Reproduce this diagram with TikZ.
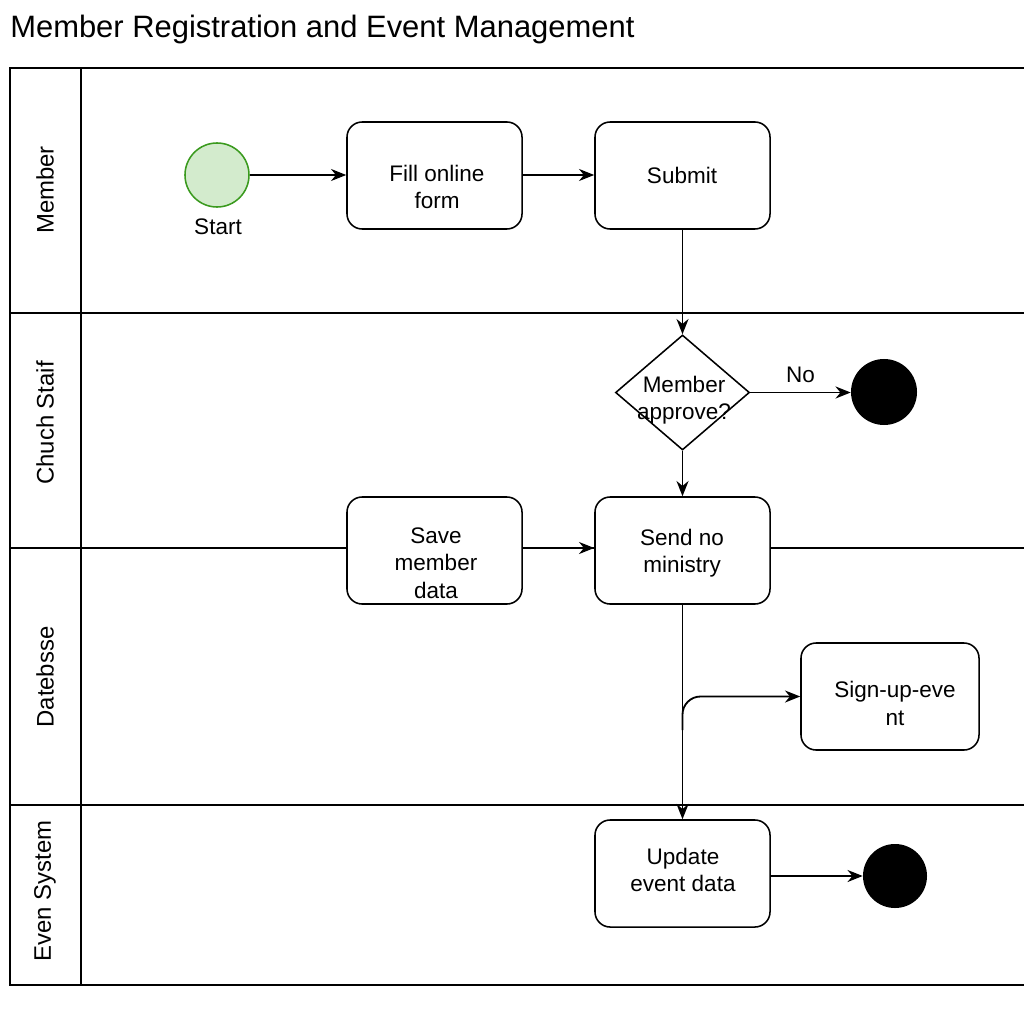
\documentclass[tikz,border=0pt]{standalone}
\usepackage{fontspec}
\setmainfont{Liberation Sans}
\usetikzlibrary{arrows.meta,shapes.geometric}
\definecolor{startfill}{HTML}{D3EBCD}
\definecolor{startdraw}{HTML}{3A9A1E}
\begin{document}
\begin{tikzpicture}[x=0.025cm,y=-0.025cm,
  lane/.style={line width=1.1pt},
  box/.style={draw,line width=1.1pt,rounded corners=0.38cm,fill=white,minimum width=4.375cm,minimum height=2.675cm,inner sep=0pt},
  txt/.style={font=\fontsize{16}{19.5}\selectfont,align=center,inner sep=0pt},
  lanetxt/.style={font=\fontsize{17}{20}\selectfont,rotate=90,inner sep=0pt},
  flow/.style={line width=1.3pt,-{Stealth[length=0.38cm,width=0.3cm]}},
  endc/.style={circle,fill=black,inner sep=0pt}]
\useasboundingbox (0,0) rectangle (1024,1024);
% title
\node[anchor=base west,inner sep=0pt,font=\fontsize{22}{26}\selectfont] (title) at (10,38) {Member Registration and Event Management};
% lanes
\draw[lane] (1024,68) -- (10,68) -- (10,985) -- (1024,985);
\draw[lane] (81,68) -- (81,985);
\draw[lane] (10,313) -- (1024,313);
\draw[lane] (10,548) -- (1024,548);
\draw[lane] (10,805) -- (1024,805);
\node[lanetxt] (l1) at (45,190) {Member};
\node[lanetxt] (l2) at (45,423) {Chuch Staif};
\node[lanetxt] (l3) at (45,677) {Datebsse};
\node[lanetxt] (l4) at (45,891) {Even System};
% nodes
\node[circle,draw=startdraw,fill=startfill,line width=1.1pt,minimum size=1.6cm,inner sep=0pt] (start) at (217,175) {};
\node[txt] (startlbl) at (218,227) {Start};
\node[box] (fill) at (434.5,175.5) {};
\node[txt] at (437,187) {Fill online\\form};
\node[box] (submit) at (682.5,175.5) {};
\node[txt] at (682,175) {Submit};
\node[diamond,draw,line width=1.1pt,minimum width=3.35cm,minimum height=2.875cm,inner sep=0pt,fill=white] (dec) at (682.5,392.5) {};
\node[txt] at (684,400) {Member\\approve?};
\node[endc,minimum size=1.65cm] (end1) at (884,392) {};
\node[box] (save) at (434.5,550.5) {};
\node[txt] at (436,563) {Save\\member\\data};
\node[box] (send) at (682.5,550.5) {};
\node[txt] at (682,553) {Send no\\ministry};
\node[box,minimum width=4.45cm] (sign) at (890,696.5) {};
\node[txt] at (895,703.5) {Sign-up-eve\\nt};
\node[box] (upd) at (682.5,873.5) {};
\node[txt] at (683,870) {Update\\event data};
\node[endc,minimum size=1.6cm] (end2) at (895,876) {};
% connectors
\draw[flow] (start.east) -- (fill.west |- start.east);
\draw[flow] (fill.east |- start.east) -- (submit.west |- start.east);
\draw[flow] (submit.south) -- (dec.north);
\draw[flow] (dec.east) -- node[above=6pt,txt] (no) {No} (end1.west |- dec.east);
\draw[flow] (dec.south) -- (send.north);
\coordinate (mid) at (0,548);
\draw[flow] (save.east |- mid) -- (send.west |- mid);
\draw[flow] (send.south) -- (upd.north);
\coordinate (br) at (682.5,730);
\draw[flow,rounded corners=0.45cm] (br) |- (sign.west);
\draw[flow] (end2.west -| upd.east) -- (end2.west);
\end{tikzpicture}
\end{document}
